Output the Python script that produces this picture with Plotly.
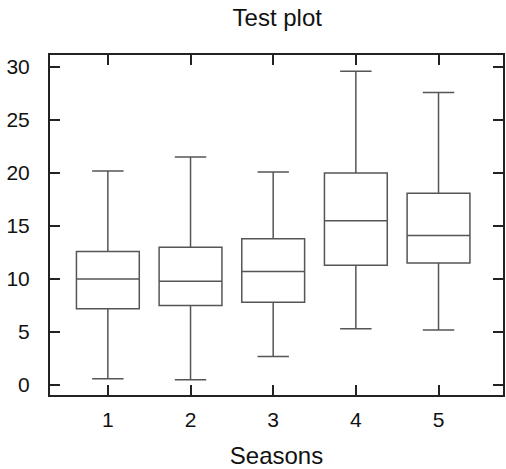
import plotly.graph_objects as go

seasons = [1, 2, 3, 4, 5]
lower = [0.6, 0.5, 2.7, 5.3, 5.2]
q1 = [7.2, 7.5, 7.8, 11.3, 11.5]
median = [10.0, 9.8, 10.7, 15.5, 14.1]
q3 = [12.6, 13.0, 13.8, 20.0, 18.1]
upper = [20.2, 21.5, 20.1, 29.6, 27.6]
y_ticks = [0, 5, 10, 15, 20, 25, 30]

font = "Liberation Sans, Arial, sans-serif"

fig = go.Figure()
fig.add_trace(go.Box(
    x=seasons, q1=q1, median=median, q3=q3,
    lowerfence=lower, upperfence=upper,
    width=0.76, whiskerwidth=0.5,
    fillcolor="white", line=dict(color="#555555", width=1.5),
    boxpoints=False, showlegend=False, hoverinfo="skip",
))

fig.update_layout(
    width=506, height=469,
    margin=dict(l=50, r=1, t=55, b=74),
    paper_bgcolor="white", plot_bgcolor="white",
    font=dict(family=font, size=21, color="#111111"),
    title=dict(text="Test plot", x=0.548, xanchor="center",
               y=1 - 18 / 469, yanchor="middle", yref="container",
               font=dict(size=24)),
    xaxis=dict(range=[0.3, 5.78], tickvals=seasons, ticktext=[str(s) for s in seasons],
               showline=True, mirror="allticks", linecolor="#222222", linewidth=2,
               ticks="inside", ticklen=10, tickwidth=2, tickcolor="#222222",
               showgrid=False, zeroline=False, ticklabelstandoff=5,
               tickfont=dict(size=21),
               title=dict(text="Seasons", standoff=19, font=dict(size=24))),
    yaxis=dict(range=[-0.94, 31.13], tickvals=y_ticks,
               showline=True, mirror="allticks", linecolor="#222222", linewidth=2,
               ticks="inside", ticklen=10, tickwidth=2, tickcolor="#222222",
               showgrid=False, zeroline=False, ticklabelstandoff=14,
               tickfont=dict(size=21)),
)

fig.write_html("out.html")
